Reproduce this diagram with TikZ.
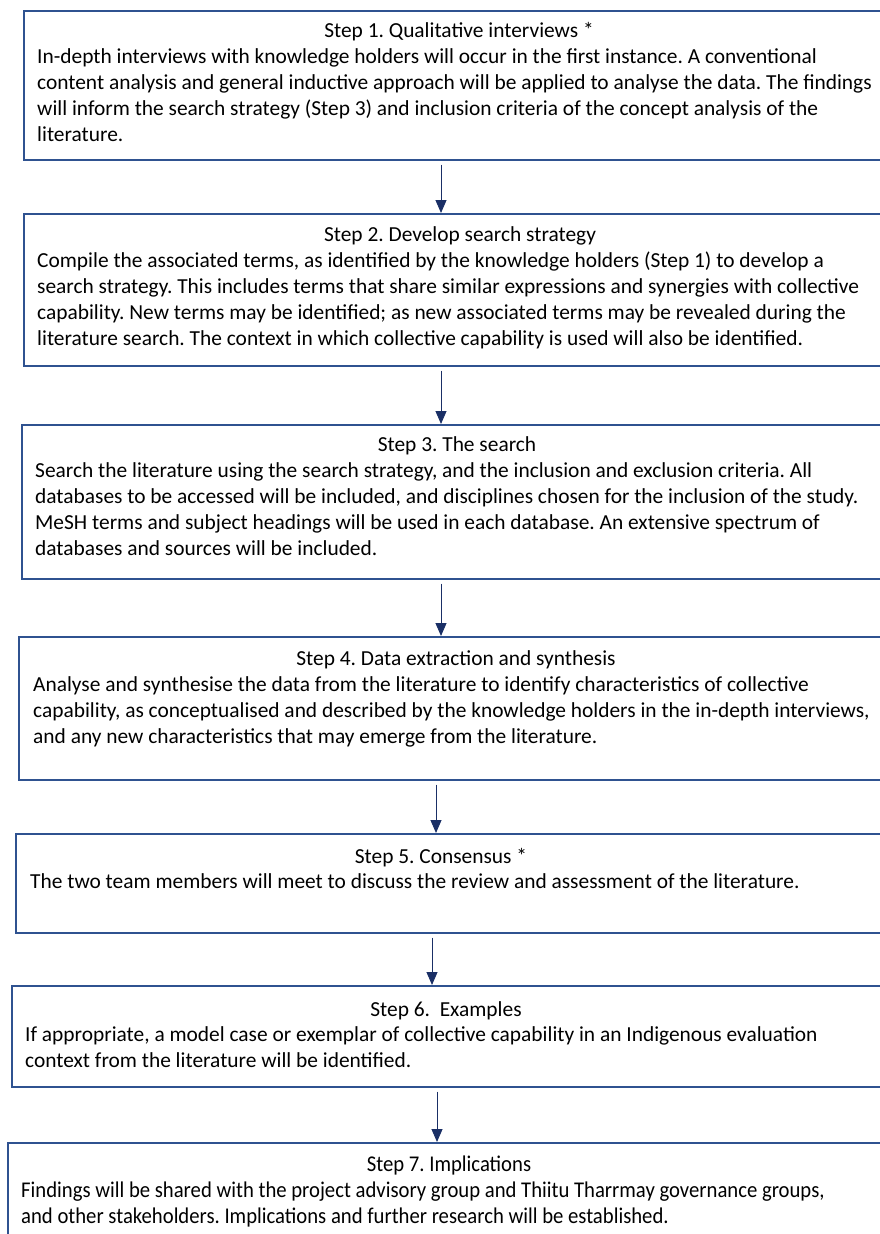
\documentclass[tikz,border=0pt]{standalone}
\usepackage{fontspec}
\setmainfont{Carlito}
\newfontfamily\condfont[FakeStretch=0.92]{Carlito}
\usepackage{tikz}
\usetikzlibrary{arrows.meta}
\definecolor{boxblue}{HTML}{2F5290}
\definecolor{arrowblue}{HTML}{1A2F66}
\frenchspacing

\begin{document}
\begin{tikzpicture}[x=1pt, y=-1pt]
\tikzset{stepbox/.style={draw=boxblue, line width=1.7pt, rectangle, anchor=north west, minimum width=875pt, inner sep=0pt},
  steptitle/.style={anchor=base, inner sep=0pt, font=\fontsize{21.4}{26}\selectfont},
  stepbody/.style={anchor=base west, inner sep=0pt, align=left, font=\fontsize{21.4}{26}\selectfont},
  condtext/.style={font=\condfont\fontsize{22.5}{26}\selectfont},
  flowarrow/.style={draw=arrowblue, line width=1pt, -{Triangle[width=11pt, length=13pt]}}}
\useasboundingbox (0,0) rectangle (880,1234);
\clip (0,0) rectangle (880,1234);

% boxes
\node[stepbox, minimum height=149pt] (s1) at (23,10) {};
\node[stepbox, minimum height=152pt] (s2) at (23,213) {};
\node[stepbox, minimum height=154pt] (s3) at (21,424) {};
\node[stepbox, minimum height=143pt] (s4) at (18,636) {};
\node[stepbox, minimum height=99pt] (s5) at (15,833) {};
\node[stepbox, minimum height=101pt] (s6) at (11,985) {};
\node[stepbox, minimum height=120pt] (s7) at (7,1142) {};

% titles and texts (body placed at its last baseline)
\node[steptitle] (t1) at (459,37) {Step 1. Qualitative interviews *};
\node[stepbody] (b1) at (37,141) {In-depth interviews with knowledge holders will occur in the first instance. A conventional\\
content analysis and general inductive approach will be applied to analyse the data. The findings\\
will inform the search strategy (Step 3) and inclusion criteria of the concept analysis of the\\
literature.};

\node[steptitle] (t2) at (460,241) {Step 2. Develop search strategy};
\node[stepbody] (b2) at (37,345) {Compile the associated terms, as identified by the knowledge holders (Step 1) to develop a\\
search strategy. This includes terms that share similar expressions and synergies with collective\\
capability. New terms may be identified; as new associated terms may be revealed during the\\
literature search. The context in which collective capability is used will also be identified.};

\node[steptitle] (t3) at (457,451) {Step 3. The search};
\node[stepbody] (b3) at (35,555) {Search the literature using the search strategy, and the inclusion and exclusion criteria. All\\
databases to be accessed will be included, and disciplines chosen for the inclusion of the study.\\
MeSH terms and subject headings will be used in each database. An extensive spectrum of\\
databases and sources will be included.};

\node[steptitle] (t4) at (456,665) {Step 4. Data extraction and synthesis};
\node[stepbody] (b4) at (33,743) {Analyse and synthesise the data from the literature to identify characteristics of collective\\
capability, as conceptualised and described by the knowledge holders in the in-depth interviews,\\
and any new characteristics that may emerge from the literature.};

\node[steptitle] (t5) at (441,863) {Step 5. Consensus *};
\node[stepbody] (b5) at (30,888) {The two team members will meet to discuss the review and assessment of the literature.};

\node[steptitle] (t6) at (446,1016) {Step 6.\ \ Examples};
\node[stepbody] (b6) at (25,1067) {If appropriate, a model case or exemplar of collective capability in an Indigenous evaluation\\
context from the literature will be identified.};

\node[steptitle, condtext] (t7) at (449,1171) {Step 7. Implications};
\node[stepbody, condtext] (b7) at (21,1223) {Findings will be shared with the project advisory group and Thiitu Tharrmay governance groups,\\
and other stakeholders. Implications and further research will be established.};

% arrows
\draw[flowarrow] (441,0 |- s1.south) ++(0,4) -- (441,0 |- s2.north);
\draw[flowarrow] (441,0 |- s2.south) ++(0,4) -- (441,0 |- s3.north);
\draw[flowarrow] (441,0 |- s3.south) ++(0,4) -- (441,0 |- s4.north);
\draw[flowarrow] (436,0 |- s4.south) ++(0,4) -- (436,0 |- s5.north);
\draw[flowarrow] (432,0 |- s5.south) ++(0,4) -- (432,0 |- s6.north);
\draw[flowarrow] (437,0 |- s6.south) ++(0,4) -- (437,0 |- s7.north);

\end{tikzpicture}
\end{document}
